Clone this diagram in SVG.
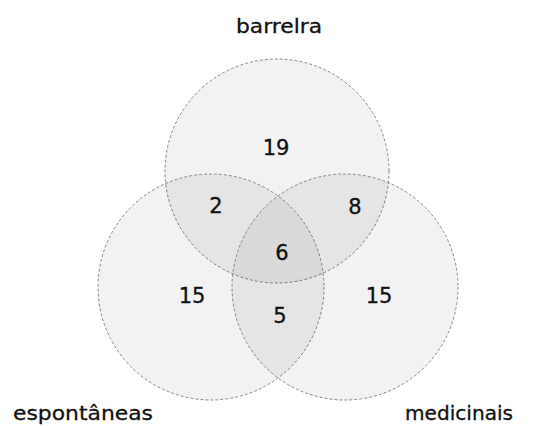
<svg xmlns="http://www.w3.org/2000/svg" width="538" height="426" viewBox="0 0 538 426">
<style>
.c{fill:#000;fill-opacity:0.05;stroke:#8a8a8a;stroke-width:1;stroke-dasharray:3 2}
.n{font-family:"DejaVu Sans",sans-serif;font-size:21px;fill:#111;text-anchor:middle;stroke:#111;stroke-width:0.3}
.l{font-family:"DejaVu Sans",sans-serif;font-size:20px;fill:#111;text-anchor:middle;stroke:#111;stroke-width:0.3}
</style>
<rect width="538" height="426" fill="#fff"/>
<g id="barreira">
<circle class="c" cx="277" cy="171" r="112"/>
<text class="l" x="279" y="33" textLength="86" lengthAdjust="spacingAndGlyphs">barrelra</text>
</g>
<g id="espontaneas">
<circle class="c" cx="211" cy="287" r="113"/>
<text class="l" x="83" y="420" textLength="140" lengthAdjust="spacingAndGlyphs">espontâneas</text>
</g>
<g id="medicinais">
<circle class="c" cx="345" cy="287" r="113"/>
<text class="l" x="459" y="420" textLength="108" lengthAdjust="spacingAndGlyphs">medicinais</text>
</g>
<g id="counts">
<text class="n" x="276" y="155">19</text>
<text class="n" x="216" y="213">2</text>
<text class="n" x="355" y="214">8</text>
<text class="n" x="282" y="260">6</text>
<text class="n" x="280" y="323">5</text>
<text class="n" x="192" y="303">15</text>
<text class="n" x="379" y="303">15</text>
</g>
<g id="connectors"></g>
</svg>
